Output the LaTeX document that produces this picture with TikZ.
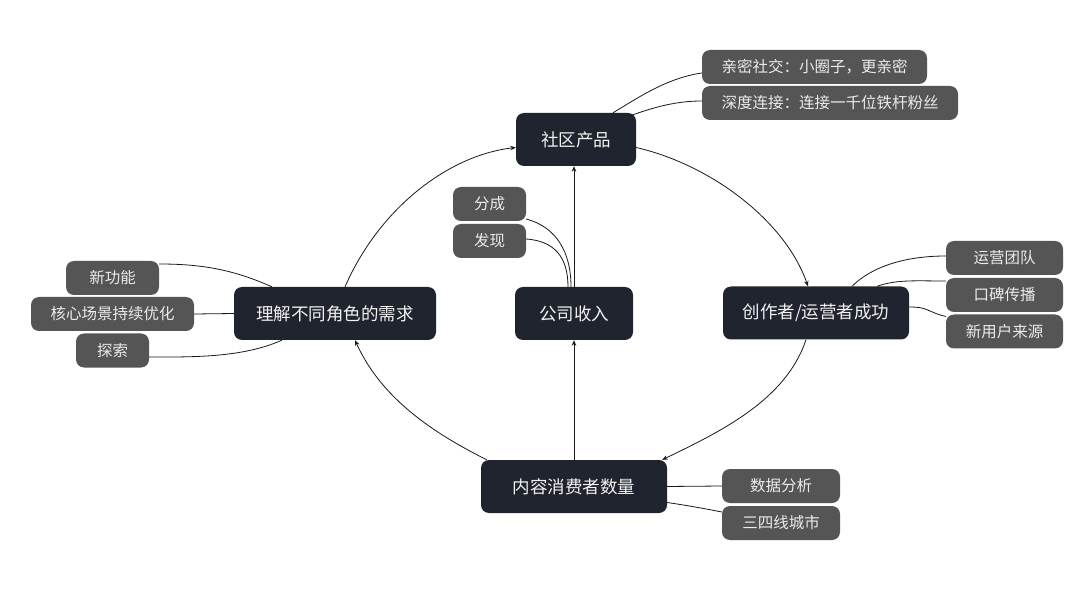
\documentclass[tikz,border=0pt]{standalone}
\usepackage{fontspec}
\setmainfont{Noto Sans CJK SC}
\usetikzlibrary{arrows.meta,calc}
\definecolor{maindark}{HTML}{20242E}
\definecolor{subgray}{HTML}{555555}
\begin{document}
\begin{tikzpicture}[x=1pt,y=-1pt,
 mainbox/.style={fill=maindark, rounded corners=8pt, text=white!95!black, font=\fontsize{17.5}{20}\selectfont, minimum height=53pt, inner sep=0pt},
 subbox/.style={fill=subgray, rounded corners=8pt, text=white!92!black, font=\fontsize{15.5}{18}\selectfont, minimum height=34pt, inner sep=0pt},
 link/.style={draw=black!90, line width=0.8pt},
 arr/.style={link, -{Stealth[length=5.5pt,width=4.5pt]}}]
\fill[white] (0,0) rectangle (1080,596);
\useasboundingbox (0,0) rectangle (1080,596);

% main nodes
\node[mainbox, minimum width=120pt] (comm) at (576,139.5) {社区产品};
\node[mainbox, minimum width=118pt] (inc) at (574,313.5) {公司收入};
\node[mainbox, minimum width=202pt] (und) at (335,313.5) {理解不同角色的需求};
\node[mainbox, minimum width=186pt] (cre) at (816,313) {创作者/运营者成功};
\node[mainbox, minimum width=186pt] (con) at (574,486.5) {内容消费者数量};

% sub nodes
\node[subbox, minimum width=225pt] (s1) at (814.5,67) {亲密社交：小圈子，更亲密};
\node[subbox, minimum width=256pt] (s2) at (830,103) {深度连接：连接一千位铁杆粉丝};
\node[subbox, minimum width=73pt] (fc) at (489.5,204) {分成};
\node[subbox, minimum width=73pt] (fx) at (489.5,241) {发现};
\node[subbox, minimum width=117pt] (y1) at (1004.5,258) {运营团队};
\node[subbox, minimum width=117pt] (y2) at (1004.5,295) {口碑传播};
\node[subbox, minimum width=117pt] (y3) at (1004.5,331.5) {新用户来源};
\node[subbox, minimum width=93pt] (n1) at (112.5,278) {新功能};
\node[subbox, minimum width=163pt] (n2) at (112.5,314) {核心场景持续优化};
\node[subbox, minimum width=73pt] (n3) at (112.5,350.5) {探索};
\node[subbox, minimum width=118pt] (d1) at (781,486) {数据分析};
\node[subbox, minimum width=118pt] (d2) at (781,523) {三四线城市};

% main cycle
\draw[arr] ($(und.north)+(10,0)$) .. controls +(35,-80) and +(-66,7.5) .. ($(comm.west)+(0,8)$);
\draw[arr] ($(comm.east)+(0,8)$) .. controls +(74,17) and +(-23,-66) .. ($(cre.north)+(-8,0)$);
\draw[arr] ($(cre.south)+(-10,0)$) .. controls +(-20,60) and +(60,-29) .. ($(con.north east)+(-5,0)$);
\draw[arr] ($(con.north west)+(6,0)$) .. controls +(-60,-30) and +(25,55) .. ($(und.south)+(20,0)$);
\draw[arr] (inc.north) -- (inc.north |- comm.south);
\draw[arr] (con.north) -- (inc.south);

% sub links
\draw[link] ($(comm.north)+(37,0)$) .. controls +(25,-15) and +(-35,5) .. ($(s1.west)+(0,6)$);
\draw[link] ($(comm.north)+(54,3)$) .. controls +(25,-9) and +(-25,0) .. ($(s2.west)+(0,-2)$);
\draw[link] ($(fc.east)+(0,15)$) .. controls +(30,8) and +(0,-35) .. ($(inc.north)+(-3,0)$);
\draw[link] ($(fx.east)+(0,-2)$) .. controls +(28,2) and +(0,-30) .. ($(inc.north)+(-6,0)$);
\draw[link] ($(cre.north)+(36,0)$) .. controls +(20,-20) and +(-40,0) .. ($(y1.west)+(0,-2)$);
\draw[link] ($(cre.north)+(61,0)$) .. controls +(20,-7) and +(-30,0) .. ($(y2.west)+(0,-14)$);
\draw[link] ($(cre.east)+(0,-6)$) .. controls +(20,0) and +(-20,-5) .. ($(y3.west)+(0,-15)$);
\draw[link] ($(und.north west)+(38,0)$) .. controls +(-40,-18) and +(40,0) .. ($(n1.east)+(0,-14)$);
\draw[link] (und.west) -- (n2.east);
\draw[link] ($(und.south west)+(48,0)$) .. controls +(-40,18) and +(40,0) .. ($(n3.east)+(0,6.5)$);
\draw[link] (con.east) -- (d1.west);
\draw[link] ($(con.east)+(0,16)$) .. controls +(20,3) and +(-20,-4) .. ($(d2.west)+(0,-11)$);
\end{tikzpicture}
\end{document}
